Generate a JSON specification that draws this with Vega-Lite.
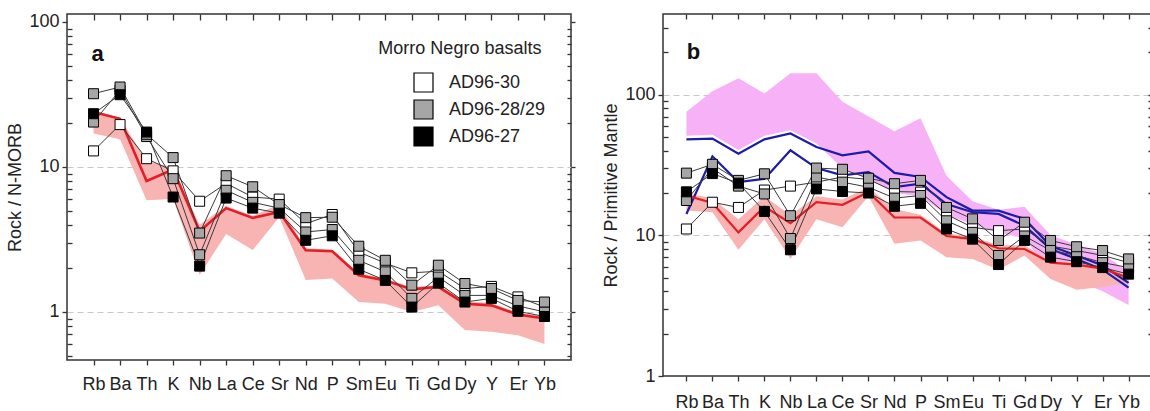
{
"$schema": "https://vega.github.io/schema/vega-lite/v6.json",
"padding": {"left": 6, "top": 12, "right": 0, "bottom": 0},
"config": {
  "font": "Liberation Sans",
  "view": {"stroke": "#333", "strokeWidth": 1.5},
  "axis": {"domain": false, "labelFontSize": 18, "labelColor": "#222", "titleFontSize": 18, "titleFontWeight": "normal", "titleColor": "#222", "tickColor": "#333", "tickWidth": 1.3, "grid": false, "labelOverlap": false, "labelFlush": false, "labelBound": false, "minExtent": 0}
},
"datasets": {
  "a_ref": [
    {"ele":"Rb","lo":17,"hi":24.5,"red":23.9},
    {"ele":"Ba","lo":15.5,"hi":21.8,"red":21.5},
    {"ele":"Th","lo":5.9,"hi":11,"red":8.0},
    {"ele":"K","lo":6.0,"hi":9.9,"red":9.6},
    {"ele":"Nb","lo":1.8,"hi":4.0,"red":3.6},
    {"ele":"La","lo":3.45,"hi":5.4,"red":5.2},
    {"ele":"Ce","lo":2.67,"hi":4.6,"red":4.45},
    {"ele":"Sr","lo":4.5,"hi":5.5,"red":4.9},
    {"ele":"Nd","lo":1.66,"hi":2.75,"red":2.66},
    {"ele":"P","lo":1.7,"hi":2.7,"red":2.62},
    {"ele":"Sm","lo":1.17,"hi":1.85,"red":1.79},
    {"ele":"Eu","lo":1.14,"hi":1.7,"red":1.65},
    {"ele":"Ti","lo":1.0,"hi":1.48,"red":1.43},
    {"ele":"Gd","lo":1.11,"hi":1.54,"red":1.49},
    {"ele":"Dy","lo":0.75,"hi":1.18,"red":1.14},
    {"ele":"Y","lo":0.73,"hi":1.15,"red":1.11},
    {"ele":"Er","lo":0.69,"hi":0.99,"red":0.96},
    {"ele":"Yb","lo":0.6,"hi":0.93,"red":0.9}
  ],
  "a_s": [
    {"sample":"AD96-30","grp":"AD96-30","ele":"Rb","v":12.9},{"sample":"AD96-30","grp":"AD96-30","ele":"Ba","v":19.6},{"sample":"AD96-30","grp":"AD96-30","ele":"Th","v":11.4},{"sample":"AD96-30","grp":"AD96-30","ele":"K","v":9.4},{"sample":"AD96-30","grp":"AD96-30","ele":"Nb","v":5.8},{"sample":"AD96-30","grp":"AD96-30","ele":"La","v":7.7},{"sample":"AD96-30","grp":"AD96-30","ele":"Ce","v":6.2},{"sample":"AD96-30","grp":"AD96-30","ele":"Sr","v":6.0},{"sample":"AD96-30","grp":"AD96-30","ele":"Nd","v":4.06},{"sample":"AD96-30","grp":"AD96-30","ele":"P","v":4.7},{"sample":"AD96-30","grp":"AD96-30","ele":"Sm","v":2.59},{"sample":"AD96-30","grp":"AD96-30","ele":"Eu","v":2.17},{"sample":"AD96-30","grp":"AD96-30","ele":"Ti","v":1.86},{"sample":"AD96-30","grp":"AD96-30","ele":"Gd","v":1.91},{"sample":"AD96-30","grp":"AD96-30","ele":"Dy","v":1.45},{"sample":"AD96-30","grp":"AD96-30","ele":"Y","v":1.5},{"sample":"AD96-30","grp":"AD96-30","ele":"Er","v":1.27},{"sample":"AD96-30","grp":"AD96-30","ele":"Yb","v":1.08},
    {"sample":"AD96-29","grp":"AD96-28/29","ele":"Rb","v":20.4},{"sample":"AD96-29","grp":"AD96-28/29","ele":"Ba","v":33.9},{"sample":"AD96-29","grp":"AD96-28/29","ele":"Th","v":16.2},{"sample":"AD96-29","grp":"AD96-28/29","ele":"K","v":8.3},{"sample":"AD96-29","grp":"AD96-28/29","ele":"Nb","v":2.48},{"sample":"AD96-29","grp":"AD96-28/29","ele":"La","v":6.9},{"sample":"AD96-29","grp":"AD96-28/29","ele":"Ce","v":5.7},{"sample":"AD96-29","grp":"AD96-28/29","ele":"Sr","v":5.2},{"sample":"AD96-29","grp":"AD96-28/29","ele":"Nd","v":3.56},{"sample":"AD96-29","grp":"AD96-28/29","ele":"P","v":3.7},{"sample":"AD96-29","grp":"AD96-28/29","ele":"Sm","v":2.27},{"sample":"AD96-29","grp":"AD96-28/29","ele":"Eu","v":1.89},{"sample":"AD96-29","grp":"AD96-28/29","ele":"Ti","v":1.24},{"sample":"AD96-29","grp":"AD96-28/29","ele":"Gd","v":1.74},{"sample":"AD96-29","grp":"AD96-28/29","ele":"Dy","v":1.3},{"sample":"AD96-29","grp":"AD96-28/29","ele":"Y","v":1.3},{"sample":"AD96-29","grp":"AD96-28/29","ele":"Er","v":1.1},{"sample":"AD96-29","grp":"AD96-28/29","ele":"Yb","v":1.0},
    {"sample":"AD96-28","grp":"AD96-28/29","ele":"Rb","v":32},{"sample":"AD96-28","grp":"AD96-28/29","ele":"Ba","v":35.6},{"sample":"AD96-28","grp":"AD96-28/29","ele":"Th","v":16.8},{"sample":"AD96-28","grp":"AD96-28/29","ele":"K","v":11.6},{"sample":"AD96-28","grp":"AD96-28/29","ele":"Nb","v":3.5},{"sample":"AD96-28","grp":"AD96-28/29","ele":"La","v":8.7},{"sample":"AD96-28","grp":"AD96-28/29","ele":"Ce","v":7.3},{"sample":"AD96-28","grp":"AD96-28/29","ele":"Sr","v":5.5},{"sample":"AD96-28","grp":"AD96-28/29","ele":"Nd","v":4.47},{"sample":"AD96-28","grp":"AD96-28/29","ele":"P","v":4.5},{"sample":"AD96-28","grp":"AD96-28/29","ele":"Sm","v":2.84},{"sample":"AD96-28","grp":"AD96-28/29","ele":"Eu","v":2.27},{"sample":"AD96-28","grp":"AD96-28/29","ele":"Ti","v":1.53},{"sample":"AD96-28","grp":"AD96-28/29","ele":"Gd","v":2.1},{"sample":"AD96-28","grp":"AD96-28/29","ele":"Dy","v":1.57},{"sample":"AD96-28","grp":"AD96-28/29","ele":"Y","v":1.45},{"sample":"AD96-28","grp":"AD96-28/29","ele":"Er","v":1.2},{"sample":"AD96-28","grp":"AD96-28/29","ele":"Yb","v":1.17},
    {"sample":"AD96-27","grp":"AD96-27","ele":"Rb","v":23.3},{"sample":"AD96-27","grp":"AD96-27","ele":"Ba","v":31.5},{"sample":"AD96-27","grp":"AD96-27","ele":"Th","v":17.4},{"sample":"AD96-27","grp":"AD96-27","ele":"K","v":6.2},{"sample":"AD96-27","grp":"AD96-27","ele":"Nb","v":2.07},{"sample":"AD96-27","grp":"AD96-27","ele":"La","v":6.1},{"sample":"AD96-27","grp":"AD96-27","ele":"Ce","v":5.2},{"sample":"AD96-27","grp":"AD96-27","ele":"Sr","v":4.8},{"sample":"AD96-27","grp":"AD96-27","ele":"Nd","v":3.12},{"sample":"AD96-27","grp":"AD96-27","ele":"P","v":3.35},{"sample":"AD96-27","grp":"AD96-27","ele":"Sm","v":1.97},{"sample":"AD96-27","grp":"AD96-27","ele":"Eu","v":1.65},{"sample":"AD96-27","grp":"AD96-27","ele":"Ti","v":1.08},{"sample":"AD96-27","grp":"AD96-27","ele":"Gd","v":1.58},{"sample":"AD96-27","grp":"AD96-27","ele":"Dy","v":1.17},{"sample":"AD96-27","grp":"AD96-27","ele":"Y","v":1.24},{"sample":"AD96-27","grp":"AD96-27","ele":"Er","v":1.01},{"sample":"AD96-27","grp":"AD96-27","ele":"Yb","v":0.93}
  ],
  "b_ref": [
    {"ele":"Rb","mlo":51,"mhi":75.6,"slo":15,"shi":20,"red":19.2},
    {"ele":"Ba","mlo":52,"mhi":106,"slo":14.6,"shi":18.3,"red":17},
    {"ele":"Th","mlo":40.5,"mhi":131,"slo":7.9,"shi":13,"red":10.5},
    {"ele":"K","mlo":51,"mhi":102,"slo":13,"shi":19,"red":16},
    {"ele":"Nb","mlo":56,"mhi":142,"slo":6.8,"shi":13.9,"red":12.2},
    {"ele":"La","mlo":45,"mhi":142,"slo":13,"shi":19,"red":17.2},
    {"ele":"Ce","mlo":30,"mhi":89,"slo":11.4,"shi":18,"red":16.5},
    {"ele":"Sr","mlo":25,"mhi":70,"slo":19,"shi":22,"red":20.3},
    {"ele":"Nd","mlo":20,"mhi":55,"slo":8.7,"shi":15.4,"red":13.4},
    {"ele":"P","mlo":19,"mhi":68,"slo":9.2,"shi":14,"red":13.4},
    {"ele":"Sm","mlo":14,"mhi":26.5,"slo":7.0,"shi":10.3,"red":9.9},
    {"ele":"Eu","mlo":12,"mhi":17.5,"slo":6.8,"shi":9.8,"red":9.4},
    {"ele":"Ti","mlo":10.5,"mhi":15.2,"slo":5.7,"shi":8.5,"red":8.1},
    {"ele":"Gd","mlo":9.5,"mhi":16,"slo":7.2,"shi":8.5,"red":8.0},
    {"ele":"Dy","mlo":5.5,"mhi":10,"slo":4.9,"shi":6.6,"red":6.4},
    {"ele":"Y","mlo":4.8,"mhi":8.6,"slo":4.1,"shi":6.4,"red":6.2},
    {"ele":"Er","mlo":4.0,"mhi":7.4,"slo":4.3,"shi":6.0,"red":5.8},
    {"ele":"Yb","mlo":3.2,"mhi":5.5,"slo":4.6,"shi":5.2,"red":5.0}
  ],
  "b_blue": [
    {"line":"B1","ele":"Rb","v":48.2},{"line":"B1","ele":"Ba","v":48.8},{"line":"B1","ele":"Th","v":38.1},{"line":"B1","ele":"K","v":48.2},{"line":"B1","ele":"Nb","v":53},{"line":"B1","ele":"La","v":42.5},{"line":"B1","ele":"Ce","v":37.1},{"line":"B1","ele":"Sr","v":39.6},{"line":"B1","ele":"Nd","v":27.8},{"line":"B1","ele":"P","v":26},{"line":"B1","ele":"Sm","v":18.7},{"line":"B1","ele":"Eu","v":15},{"line":"B1","ele":"Ti","v":15},{"line":"B1","ele":"Gd","v":13.1},{"line":"B1","ele":"Dy","v":8.4},{"line":"B1","ele":"Y","v":7.2},{"line":"B1","ele":"Er","v":6.1},{"line":"B1","ele":"Yb","v":4.6},
    {"line":"B2","ele":"Rb","v":14.2},{"line":"B2","ele":"Ba","v":36.5},{"line":"B2","ele":"Th","v":23.9},{"line":"B2","ele":"K","v":25.2},{"line":"B2","ele":"Nb","v":40.3},{"line":"B2","ele":"La","v":30.1},{"line":"B2","ele":"Ce","v":26.7},{"line":"B2","ele":"Sr","v":28.2},{"line":"B2","ele":"Nd","v":22},{"line":"B2","ele":"P","v":23.3},{"line":"B2","ele":"Sm","v":16.7},{"line":"B2","ele":"Eu","v":14.6},{"line":"B2","ele":"Ti","v":14.2},{"line":"B2","ele":"Gd","v":11.7},{"line":"B2","ele":"Dy","v":8.0},{"line":"B2","ele":"Y","v":6.8},{"line":"B2","ele":"Er","v":5.7},{"line":"B2","ele":"Yb","v":4.25}
  ],
  "b_s": [
    {"sample":"AD96-30","grp":"AD96-30","ele":"Rb","v":11.1},{"sample":"AD96-30","grp":"AD96-30","ele":"Ba","v":17.2},{"sample":"AD96-30","grp":"AD96-30","ele":"Th","v":15.8},{"sample":"AD96-30","grp":"AD96-30","ele":"K","v":21},{"sample":"AD96-30","grp":"AD96-30","ele":"Nb","v":22.4},{"sample":"AD96-30","grp":"AD96-30","ele":"La","v":23.9},{"sample":"AD96-30","grp":"AD96-30","ele":"Ce","v":26},{"sample":"AD96-30","grp":"AD96-30","ele":"Sr","v":25},{"sample":"AD96-30","grp":"AD96-30","ele":"Nd","v":20.5},{"sample":"AD96-30","grp":"AD96-30","ele":"P","v":20.3},{"sample":"AD96-30","grp":"AD96-30","ele":"Sm","v":14.1},{"sample":"AD96-30","grp":"AD96-30","ele":"Eu","v":11.4},{"sample":"AD96-30","grp":"AD96-30","ele":"Ti","v":10.8},{"sample":"AD96-30","grp":"AD96-30","ele":"Gd","v":11.1},{"sample":"AD96-30","grp":"AD96-30","ele":"Dy","v":8.4},{"sample":"AD96-30","grp":"AD96-30","ele":"Y","v":7.8},{"sample":"AD96-30","grp":"AD96-30","ele":"Er","v":7.2},{"sample":"AD96-30","grp":"AD96-30","ele":"Yb","v":6.4},
    {"sample":"AD96-29","grp":"AD96-28/29","ele":"Rb","v":17.7},{"sample":"AD96-29","grp":"AD96-28/29","ele":"Ba","v":30},{"sample":"AD96-29","grp":"AD96-28/29","ele":"Th","v":22.4},{"sample":"AD96-29","grp":"AD96-28/29","ele":"K","v":19.7},{"sample":"AD96-29","grp":"AD96-28/29","ele":"Nb","v":9.5},{"sample":"AD96-29","grp":"AD96-28/29","ele":"La","v":26},{"sample":"AD96-29","grp":"AD96-28/29","ele":"Ce","v":23.9},{"sample":"AD96-29","grp":"AD96-28/29","ele":"Sr","v":22},{"sample":"AD96-29","grp":"AD96-28/29","ele":"Nd","v":18.4},{"sample":"AD96-29","grp":"AD96-28/29","ele":"P","v":19.2},{"sample":"AD96-29","grp":"AD96-28/29","ele":"Sm","v":12.7},{"sample":"AD96-29","grp":"AD96-28/29","ele":"Eu","v":10.5},{"sample":"AD96-29","grp":"AD96-28/29","ele":"Ti","v":7.2},{"sample":"AD96-29","grp":"AD96-28/29","ele":"Gd","v":9.9},{"sample":"AD96-29","grp":"AD96-28/29","ele":"Dy","v":7.8},{"sample":"AD96-29","grp":"AD96-28/29","ele":"Y","v":7.2},{"sample":"AD96-29","grp":"AD96-28/29","ele":"Er","v":6.4},{"sample":"AD96-29","grp":"AD96-28/29","ele":"Yb","v":5.9},
    {"sample":"AD96-28","grp":"AD96-28/29","ele":"Rb","v":27.7},{"sample":"AD96-28","grp":"AD96-28/29","ele":"Ba","v":32},{"sample":"AD96-28","grp":"AD96-28/29","ele":"Th","v":24.6},{"sample":"AD96-28","grp":"AD96-28/29","ele":"K","v":27.4},{"sample":"AD96-28","grp":"AD96-28/29","ele":"Nb","v":13.8},{"sample":"AD96-28","grp":"AD96-28/29","ele":"La","v":30.1},{"sample":"AD96-28","grp":"AD96-28/29","ele":"Ce","v":29.5},{"sample":"AD96-28","grp":"AD96-28/29","ele":"Sr","v":25.5},{"sample":"AD96-28","grp":"AD96-28/29","ele":"Nd","v":23.3},{"sample":"AD96-28","grp":"AD96-28/29","ele":"P","v":24.6},{"sample":"AD96-28","grp":"AD96-28/29","ele":"Sm","v":15.8},{"sample":"AD96-28","grp":"AD96-28/29","ele":"Eu","v":13.1},{"sample":"AD96-28","grp":"AD96-28/29","ele":"Ti","v":9.2},{"sample":"AD96-28","grp":"AD96-28/29","ele":"Gd","v":12.4},{"sample":"AD96-28","grp":"AD96-28/29","ele":"Dy","v":9.2},{"sample":"AD96-28","grp":"AD96-28/29","ele":"Y","v":8.3},{"sample":"AD96-28","grp":"AD96-28/29","ele":"Er","v":7.8},{"sample":"AD96-28","grp":"AD96-28/29","ele":"Yb","v":6.8},
    {"sample":"AD96-27","grp":"AD96-27","ele":"Rb","v":20.4},{"sample":"AD96-27","grp":"AD96-27","ele":"Ba","v":27.5},{"sample":"AD96-27","grp":"AD96-27","ele":"Th","v":23.5},{"sample":"AD96-27","grp":"AD96-27","ele":"K","v":14.8},{"sample":"AD96-27","grp":"AD96-27","ele":"Nb","v":7.9},{"sample":"AD96-27","grp":"AD96-27","ele":"La","v":21.4},{"sample":"AD96-27","grp":"AD96-27","ele":"Ce","v":20.5},{"sample":"AD96-27","grp":"AD96-27","ele":"Sr","v":20},{"sample":"AD96-27","grp":"AD96-27","ele":"Nd","v":16.1},{"sample":"AD96-27","grp":"AD96-27","ele":"P","v":16.9},{"sample":"AD96-27","grp":"AD96-27","ele":"Sm","v":11.1},{"sample":"AD96-27","grp":"AD96-27","ele":"Eu","v":9.4},{"sample":"AD96-27","grp":"AD96-27","ele":"Ti","v":6.2},{"sample":"AD96-27","grp":"AD96-27","ele":"Gd","v":9.2},{"sample":"AD96-27","grp":"AD96-27","ele":"Dy","v":7.0},{"sample":"AD96-27","grp":"AD96-27","ele":"Y","v":6.5},{"sample":"AD96-27","grp":"AD96-27","ele":"Er","v":5.9},{"sample":"AD96-27","grp":"AD96-27","ele":"Yb","v":5.3}
  ]
},
"resolve": {"scale": {"fill": "independent"}, "legend": {"fill": "independent"}},
"spacing": 25,
"hconcat": [
  {
    "width": 504, "height": 346,
    "resolve": {"axis": {"x": "independent", "y": "independent"}},
    "layer": [
      {"data": {"name": "a_ref"}, "mark": {"type": "area", "color": "#f8b3b3", "opacity": 1},
       "encoding": {
         "x": {"field": "ele", "type": "ordinal", "sort": ["Rb","Ba","Th","K","Nb","La","Ce","Sr","Nd","P","Sm","Eu","Ti","Gd","Dy","Y","Er","Yb"], "scale": {"type": "point", "padding": 1, "domain": ["Rb","Ba","Th","K","Nb","La","Ce","Sr","Nd","P","Sm","Eu","Ti","Gd","Dy","Y","Er","Yb"]}, "axis": {"orient": "bottom", "title": null, "labelAngle": 0, "tickSize": 5, "labelPadding": 10}},
         "y": {"field": "lo", "type": "quantitative", "scale": {"type": "log", "domain": [0.466, 113.5], "nice": false}, "axis": {"orient": "left", "values": [1, 10, 100], "format": "d", "tickSize": 5, "labelPadding": 3, "title": "Rock / N-MORB", "titlePadding": 4}},
         "y2": {"field": "hi"}
       }},
      {"data": {"name": "a_ref"}, "mark": {"type": "line", "color": "#e41e25", "strokeWidth": 2.6},
       "encoding": {
         "x": {"field": "ele", "type": "ordinal", "sort": ["Rb","Ba","Th","K","Nb","La","Ce","Sr","Nd","P","Sm","Eu","Ti","Gd","Dy","Y","Er","Yb"], "scale": {"type": "point", "padding": 1, "domain": ["Rb","Ba","Th","K","Nb","La","Ce","Sr","Nd","P","Sm","Eu","Ti","Gd","Dy","Y","Er","Yb"]}, "axis": {"orient": "top", "title": null, "labels": false, "tickSize": 6, "offset": -6}},
         "y": {"field": "red", "type": "quantitative", "scale": {"type": "log", "domain": [0.466, 113.5], "nice": false}, "axis": {"orient": "left", "values": [0.5,0.6,0.7,0.8,0.9,2,3,4,5,6,7,8,9,20,30,40,50,60,70,80,90], "labels": false, "tickSize": 5, "offset": -5, "title": null}}
       }},
      {"data": {"name": "a_s"}, "mark": {"type": "line", "color": "#3a3a3a", "strokeWidth": 1},
       "encoding": {
         "x": {"field": "ele", "type": "ordinal", "sort": ["Rb","Ba","Th","K","Nb","La","Ce","Sr","Nd","P","Sm","Eu","Ti","Gd","Dy","Y","Er","Yb"], "scale": {"type": "point", "padding": 1, "domain": ["Rb","Ba","Th","K","Nb","La","Ce","Sr","Nd","P","Sm","Eu","Ti","Gd","Dy","Y","Er","Yb"]}, "axis": null},
         "y": {"field": "v", "type": "quantitative", "scale": {"type": "log", "domain": [0.466, 113.5], "nice": false}, "axis": {"orient": "right", "values": [1, 10, 100], "labels": false, "tickSize": 4, "title": null}},
         "detail": {"field": "sample"}
       }},
      {"data": {"name": "a_s"}, "mark": {"type": "point", "shape": "square", "filled": true, "size": 100, "stroke": "#000", "strokeWidth": 1, "opacity": 1},
       "encoding": {
         "x": {"field": "ele", "type": "ordinal", "sort": ["Rb","Ba","Th","K","Nb","La","Ce","Sr","Nd","P","Sm","Eu","Ti","Gd","Dy","Y","Er","Yb"], "scale": {"type": "point", "padding": 1, "domain": ["Rb","Ba","Th","K","Nb","La","Ce","Sr","Nd","P","Sm","Eu","Ti","Gd","Dy","Y","Er","Yb"]}, "axis": null},
         "y": {"field": "v", "type": "quantitative", "scale": {"type": "log", "domain": [0.466, 113.5], "nice": false}, "axis": {"orient": "right", "values": [0.5,0.6,0.7,0.8,0.9,2,3,4,5,6,7,8,9,20,30,40,50,60,70,80,90], "labels": false, "tickSize": 4, "offset": -4, "title": null}},
         "fill": {"field": "grp", "type": "nominal", "scale": {"domain": ["AD96-30", "AD96-28/29", "AD96-27"], "range": ["#ffffff", "#a6a6a6", "#000000"]},
                  "legend": {"orient": "none", "legendX": 346, "legendY": 58, "title": null, "labelFontSize": 18, "labelColor": "#222", "symbolSize": 361, "symbolType": "square", "symbolStrokeColor": "#000", "symbolStrokeWidth": 1.2, "rowPadding": 2, "labelOffset": 15, "padding": 0}}
       }},
      {"data": {"values": [{}]}, "mark": {"type": "text", "text": "a", "fontSize": 22, "fontWeight": "bold", "dx": 4, "align": "center", "baseline": "middle", "color": "#111"},
       "encoding": {
         "x": {"datum": "Rb", "type": "ordinal", "scale": {"type": "point", "padding": 1, "domain": ["Rb","Ba","Th","K","Nb","La","Ce","Sr","Nd","P","Sm","Eu","Ti","Gd","Dy","Y","Er","Yb"]}, "axis": null},
         "y": {"datum": 60, "type": "quantitative", "scale": {"type": "log", "domain": [0.466, 113.5], "nice": false}, "axis": {"orient": "left", "values": [1, 10], "grid": true, "gridDash": [6, 4], "gridColor": "#c8c8c8", "gridWidth": 1, "ticks": false, "labels": false, "title": null}}
       }},
      {"data": {"values": [{}]}, "mark": {"type": "text", "text": "Morro Negro basalts", "fontSize": 18, "dx": -5, "align": "center", "baseline": "middle", "color": "#222"},
       "encoding": {
         "x": {"datum": "Dy", "type": "ordinal", "scale": {"type": "point", "padding": 1, "domain": ["Rb","Ba","Th","K","Nb","La","Ce","Sr","Nd","P","Sm","Eu","Ti","Gd","Dy","Y","Er","Yb"]}, "axis": null},
         "y": {"datum": 65, "type": "quantitative", "scale": {"type": "log", "domain": [0.466, 113.5], "nice": false}, "axis": null}
       }}
    ]
  },
  {
    "width": 489, "height": 362,
    "resolve": {"axis": {"x": "independent", "y": "independent"}},
    "layer": [
      {"data": {"name": "b_ref"}, "mark": {"type": "area", "color": "#f7b2f7", "opacity": 1},
       "encoding": {
         "x": {"field": "ele", "type": "ordinal", "sort": ["Rb","Ba","Th","K","Nb","La","Ce","Sr","Nd","P","Sm","Eu","Ti","Gd","Dy","Y","Er","Yb"], "scale": {"type": "point", "padding": 0.9, "domain": ["Rb","Ba","Th","K","Nb","La","Ce","Sr","Nd","P","Sm","Eu","Ti","Gd","Dy","Y","Er","Yb"]}, "axis": {"orient": "bottom", "title": null, "labelAngle": 0, "tickSize": 5, "labelPadding": 12}},
         "y": {"field": "mlo", "type": "quantitative", "scale": {"type": "log", "domain": [1, 375], "nice": false}, "axis": {"orient": "left", "values": [1, 10, 100], "format": "d", "tickSize": 5, "labelPadding": 3, "title": "Rock / Primitive Mantle", "titlePadding": 4}},
         "y2": {"field": "mhi"}
       }},
      {"data": {"name": "b_ref"}, "mark": {"type": "area", "color": "#f8b3b3", "opacity": 1},
       "encoding": {
         "x": {"field": "ele", "type": "ordinal", "sort": ["Rb","Ba","Th","K","Nb","La","Ce","Sr","Nd","P","Sm","Eu","Ti","Gd","Dy","Y","Er","Yb"], "scale": {"type": "point", "padding": 0.9, "domain": ["Rb","Ba","Th","K","Nb","La","Ce","Sr","Nd","P","Sm","Eu","Ti","Gd","Dy","Y","Er","Yb"]}, "axis": {"orient": "top", "title": null, "labels": false, "tickSize": 5, "offset": -5}},
         "y": {"field": "slo", "type": "quantitative", "scale": {"type": "log", "domain": [1, 375], "nice": false}, "axis": {"orient": "left", "values": [2,3,4,5,6,7,8,9,20,30,40,50,60,70,80,90,200,300], "labels": false, "tickSize": 5, "offset": -5, "title": null}},
         "y2": {"field": "shi"}
       }},
      {"data": {"name": "b_blue"}, "mark": {"type": "line", "color": "#1c1ca6", "strokeWidth": 2.2},
       "encoding": {
         "x": {"field": "ele", "type": "ordinal", "sort": ["Rb","Ba","Th","K","Nb","La","Ce","Sr","Nd","P","Sm","Eu","Ti","Gd","Dy","Y","Er","Yb"], "scale": {"type": "point", "padding": 0.9, "domain": ["Rb","Ba","Th","K","Nb","La","Ce","Sr","Nd","P","Sm","Eu","Ti","Gd","Dy","Y","Er","Yb"]}, "axis": null},
         "y": {"field": "v", "type": "quantitative", "scale": {"type": "log", "domain": [1, 375], "nice": false}, "axis": {"orient": "right", "values": [2,3,4,5,6,7,8,9,10,20,30,40,50,60,70,80,90,100,200,300], "labels": false, "tickSize": 4, "offset": -4, "title": null}},
         "detail": {"field": "line"}
       }},
      {"data": {"name": "b_ref"}, "mark": {"type": "line", "color": "#e41e25", "strokeWidth": 2.2},
       "encoding": {
         "x": {"field": "ele", "type": "ordinal", "sort": ["Rb","Ba","Th","K","Nb","La","Ce","Sr","Nd","P","Sm","Eu","Ti","Gd","Dy","Y","Er","Yb"], "scale": {"type": "point", "padding": 0.9, "domain": ["Rb","Ba","Th","K","Nb","La","Ce","Sr","Nd","P","Sm","Eu","Ti","Gd","Dy","Y","Er","Yb"]}, "axis": null},
         "y": {"field": "red", "type": "quantitative", "scale": {"type": "log", "domain": [1, 375], "nice": false}, "axis": null}
       }},
      {"data": {"name": "b_s"}, "mark": {"type": "line", "color": "#3a3a3a", "strokeWidth": 1},
       "encoding": {
         "x": {"field": "ele", "type": "ordinal", "sort": ["Rb","Ba","Th","K","Nb","La","Ce","Sr","Nd","P","Sm","Eu","Ti","Gd","Dy","Y","Er","Yb"], "scale": {"type": "point", "padding": 0.9, "domain": ["Rb","Ba","Th","K","Nb","La","Ce","Sr","Nd","P","Sm","Eu","Ti","Gd","Dy","Y","Er","Yb"]}, "axis": null},
         "y": {"field": "v", "type": "quantitative", "scale": {"type": "log", "domain": [1, 375], "nice": false}, "axis": null},
         "detail": {"field": "sample"}
       }},
      {"data": {"name": "b_s"}, "mark": {"type": "point", "shape": "square", "filled": true, "size": 100, "stroke": "#000", "strokeWidth": 1, "opacity": 1},
       "encoding": {
         "x": {"field": "ele", "type": "ordinal", "sort": ["Rb","Ba","Th","K","Nb","La","Ce","Sr","Nd","P","Sm","Eu","Ti","Gd","Dy","Y","Er","Yb"], "scale": {"type": "point", "padding": 0.9, "domain": ["Rb","Ba","Th","K","Nb","La","Ce","Sr","Nd","P","Sm","Eu","Ti","Gd","Dy","Y","Er","Yb"]}, "axis": null},
         "y": {"field": "v", "type": "quantitative", "scale": {"type": "log", "domain": [1, 375], "nice": false}, "axis": null},
         "fill": {"field": "grp", "type": "nominal", "scale": {"domain": ["AD96-30", "AD96-28/29", "AD96-27"], "range": ["#ffffff", "#a6a6a6", "#000000"]}, "legend": null}
       }},
      {"data": {"values": [{}]}, "mark": {"type": "text", "text": "b", "fontSize": 22, "fontWeight": "bold", "dx": 7, "align": "center", "baseline": "middle", "color": "#111"},
       "encoding": {
         "x": {"datum": "Rb", "type": "ordinal", "scale": {"type": "point", "padding": 0.9, "domain": ["Rb","Ba","Th","K","Nb","La","Ce","Sr","Nd","P","Sm","Eu","Ti","Gd","Dy","Y","Er","Yb"]}, "axis": null},
         "y": {"datum": 201, "type": "quantitative", "scale": {"type": "log", "domain": [1, 375], "nice": false}, "axis": {"orient": "left", "values": [10, 100], "grid": true, "gridDash": [6, 4], "gridColor": "#c8c8c8", "gridWidth": 1, "ticks": false, "labels": false, "title": null}}
       }}
    ]
  }
]
}
